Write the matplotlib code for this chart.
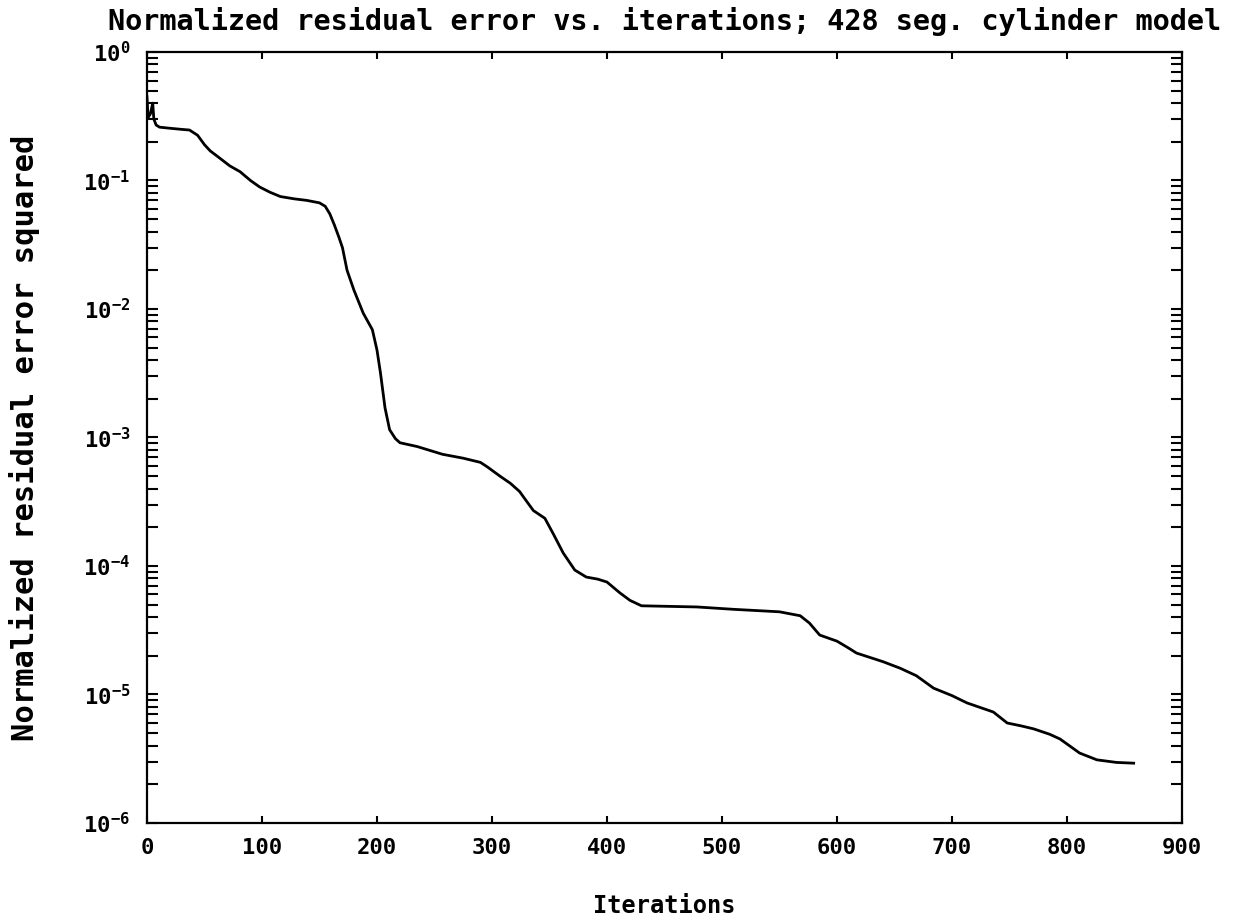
import numpy as np
import matplotlib
matplotlib.use("Agg")
import matplotlib.pyplot as plt
from matplotlib.ticker import LogLocator, FixedLocator, NullFormatter

plt.rcParams['font.family'] = ['DejaVu Sans Mono']
plt.rcParams['font.weight'] = 'bold'
plt.rcParams['mathtext.fontset'] = 'custom'
plt.rcParams['mathtext.rm'] = 'DejaVu Sans Mono:bold'
plt.rcParams['mathtext.default'] = 'rm'

# residual error (iteration, normalized residual^2)
iters = [0, 1, 3, 5, 6, 8, 11, 20, 30, 37, 44, 50, 55, 63, 72, 81, 90, 98, 107,
         116, 128, 139, 150, 155, 159, 163, 167, 170, 174, 180, 188, 196, 200,
         203, 207, 211, 216, 220, 235, 257, 275, 290, 296, 307, 316,
         324, 330, 336, 346, 353, 362, 372, 382, 392, 400, 411, 420, 430, 478,
         510, 550, 568, 576, 585, 600, 610, 617, 640, 655, 669, 684, 700, 713,
         736, 748, 760, 771, 785, 794, 811, 826, 843, 858]
resid = [0.45, 0.31, 0.33, 0.40, 0.30, 0.27, 0.26, 0.255, 0.25, 0.247, 0.225,
         0.19, 0.17, 0.15, 0.13, 0.117, 0.10, 0.089, 0.081, 0.075, 0.072,
         0.070, 0.067, 0.063, 0.055, 0.045, 0.036, 0.030, 0.020, 0.014,
         0.0093, 0.0069, 0.0048, 0.0032, 0.0017, 0.00115, 0.00098, 0.00091,
         0.00085, 0.00074, 0.00069, 0.00064, 0.00059, 0.00050, 0.00044,
         3.8e-4, 3.2e-4, 2.7e-4, 2.35e-4, 1.8e-4, 1.26e-4, 9.3e-5, 8.2e-5,
         7.9e-5, 7.5e-5, 6.2e-5, 5.4e-5, 4.9e-5, 4.8e-5, 4.6e-5, 4.4e-5,
         4.1e-5, 3.6e-5, 2.9e-5, 2.6e-5, 2.3e-5, 2.1e-5, 1.8e-5, 1.6e-5,
         1.4e-5, 1.12e-5, 9.8e-6, 8.6e-6, 7.3e-6, 6.0e-6, 5.7e-6, 5.4e-6,
         4.9e-6, 4.5e-6, 3.5e-6, 3.1e-6, 2.96e-6, 2.92e-6]

xticks = [0, 100, 200, 300, 400, 500, 600, 700, 800, 900]
ydecades = [1e-6, 1e-5, 1e-4, 1e-3, 1e-2, 1e-1, 1e0]
ylabels = ['10$^{-6}$', '10$^{-5}$', '10$^{-4}$', '10$^{-3}$', '10$^{-2}$',
           '10$^{-1}$', '10$^{0}$']

fig = plt.figure(figsize=(12.36, 9.22), dpi=100)
ax = fig.add_axes([0.1189, 0.1074, 0.8374, 0.8362])

ax.plot(iters, resid, color='black', lw=2)

ax.set_yscale('log')
ax.set_xlim(0, 900)
ax.set_ylim(1e-6, 1e0)

ax.set_xticks(xticks)
ax.set_xticklabels([str(v) for v in xticks])
ax.yaxis.set_major_locator(FixedLocator(ydecades))
ax.set_yticklabels(ylabels)
ax.yaxis.set_minor_locator(LogLocator(base=10, subs=np.arange(2, 10), numticks=20))
ax.yaxis.set_minor_formatter(NullFormatter())

ax.tick_params(axis='both', which='both', direction='in', top=True, right=True,
               width=1.5, labelsize=16)
ax.tick_params(axis='x', which='major', length=5, pad=11)
ax.tick_params(axis='y', which='major', length=8, pad=12)
ax.tick_params(axis='y', which='minor', length=8)
for s in ax.spines.values():
    s.set_linewidth(1.6)

ax.set_title('Normalized residual error vs. iterations; 428 seg. cylinder model',
             fontsize=20.5, fontweight='bold', pad=16)
ax.set_xlabel('Iterations', fontsize=17, fontweight='bold', labelpad=26)
ax.set_ylabel('Normalized residual error squared', fontsize=22,
              fontweight='bold', labelpad=31)

fig.savefig('out.png', dpi=100)
